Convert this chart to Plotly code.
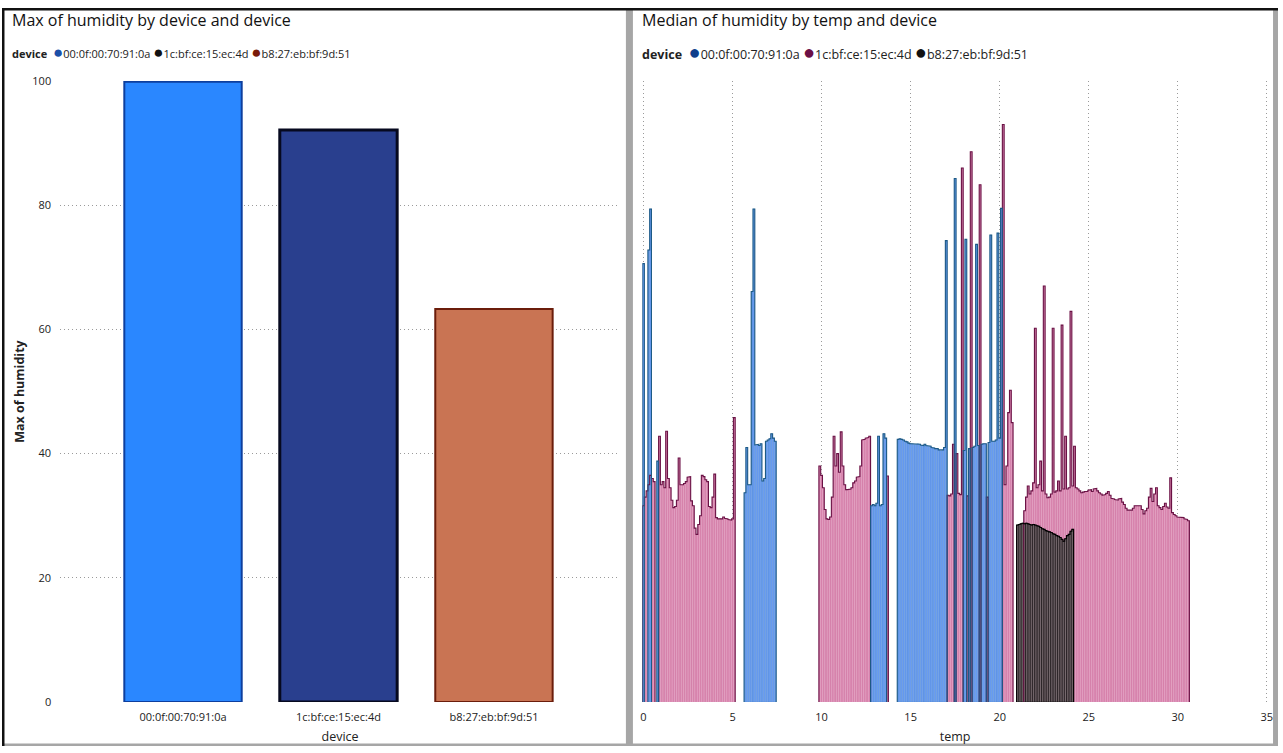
import plotly.graph_objects as go

W, H = 1283, 753

# ---------------- data: left chart ----------------
devices = ["00:0f:00:70:91:0a", "1c:bf:ce:15:ec:4d", "b8:27:eb:bf:9d:51"]
max_humidity = [99.9, 92.1, 63.3]

# ---------------- data: right chart (median humidity by temp) ----------------
blue_temp = [0.0, 0.3, 0.4, 0.8,
             5.7, 5.8, 5.9, 6.0, 6.1, 6.2, 6.3, 6.4, 6.5, 6.6, 6.7, 6.8, 6.9, 7.0, 7.1, 7.2, 7.3, 7.4,
             12.8, 12.9, 13.0, 13.1, 13.2, 13.3, 13.4, 13.5, 13.6,
             14.3, 14.4, 14.5, 14.6, 14.7, 14.8, 14.9, 15.0, 15.1, 15.2, 15.3, 15.4, 15.5, 15.6,
             15.7, 15.8, 15.9, 16.0, 16.1, 16.2, 16.3, 16.4, 16.5, 16.6, 16.7, 16.8, 16.9,
             17.0, 17.5,
             18.0, 18.1, 18.3, 18.5, 18.6, 18.7, 18.8, 19.0, 19.1, 19.2, 19.4, 19.5, 19.6, 19.7,
             19.8, 19.9, 20.0, 20.1]
blue_hum = [70.6, 72.8, 79.4, 38.8,
            33.7, 41.0, 35.0, 35.0, 66.1, 79.4, 41.4, 41.5, 41.3, 41.6, 35.6, 36.0, 42.0, 42.2, 42.4, 43.2, 42.5, 42.0,
            31.6, 31.8, 31.6, 32.0, 42.8, 31.6, 31.8, 43.2, 42.5,
            42.3, 42.4, 42.3, 42.2, 42.0, 41.9, 41.7, 41.6, 41.6, 41.5, 41.5, 41.6, 41.5, 41.4,
            41.3, 41.5, 41.3, 41.2, 41.2, 41.0, 40.9, 40.8, 40.8, 40.6, 40.5, 40.6, 41.0,
            74.3, 84.3,
            40.5, 74.5, 40.8, 41.0, 41.2, 73.7, 41.3, 41.5, 41.6, 41.6, 41.8, 75.2, 42.0, 42.0,
            42.2, 75.5, 42.5, 79.5]

pink_temp = [0.0, 0.1, 0.2, 0.3, 0.4, 0.5, 0.6, 0.9, 1.0, 1.1, 1.2, 1.3, 1.4, 1.5, 1.6, 1.7, 1.8, 1.9,
             2.0, 2.1, 2.2, 2.3, 2.4, 2.5, 2.6, 2.7, 2.8, 2.9, 3.0, 3.1, 3.2, 3.3, 3.4, 3.5, 3.6, 3.7,
             3.8, 3.9, 4.0, 4.1, 4.2, 4.3, 4.4, 4.5, 4.6, 4.7, 4.8, 4.9, 5.0, 5.1,
             9.9, 10.0, 10.1, 10.2, 10.3, 10.4, 10.5, 10.6, 10.7, 10.8, 10.9, 11.0, 11.1, 11.2, 11.3,
             11.4, 11.5, 11.6, 11.7, 11.8, 11.9, 12.0, 12.1, 12.2, 12.3, 12.4, 12.5, 12.6, 12.7,
             13.7,
             17.1, 17.2, 17.3, 17.4, 17.6, 17.7, 17.8, 17.9, 18.2, 18.4, 18.9, 19.3,
             20.2, 20.3, 20.4, 20.5, 20.6, 20.7,
             21.4, 21.5, 21.6, 21.7, 21.8, 21.9, 22.0, 22.1, 22.2, 22.3, 22.4, 22.5, 22.6, 22.7,
             22.8, 22.9, 23.0, 23.1, 23.2, 23.3, 23.4, 23.5, 23.6, 23.7, 23.8, 23.9, 24.0, 24.1,
             24.2, 24.3, 24.4, 24.5, 24.6, 24.7, 24.8, 24.9, 25.0, 25.1, 25.2, 25.3, 25.4, 25.5,
             25.6, 25.7, 25.8, 25.9, 26.0, 26.1, 26.2, 26.3, 26.4, 26.5, 26.6, 26.7, 26.8, 26.9,
             27.0, 27.1, 27.2, 27.3, 27.4, 27.5, 27.6, 27.7, 27.8, 27.9, 28.0, 28.1, 28.2, 28.3,
             28.4, 28.5, 28.6, 28.7, 28.8, 28.9, 29.0, 29.1, 29.2, 29.3, 29.4, 29.5, 29.6, 29.7,
             29.8, 29.9, 30.0, 30.1, 30.2, 30.3, 30.4, 30.5, 30.6]
pink_hum = [31.6, 33.0, 34.0, 35.0, 36.5, 36.0, 35.5, 42.8, 35.0, 35.5, 34.5, 43.6, 36.0, 34.5, 32.5, 31.3, 31.5, 32.5,
            39.3, 35.0, 35.0, 35.2, 35.5, 36.2, 36.3, 32.4, 31.6, 28.0, 27.0, 28.6, 30.0, 36.5, 36.3, 35.8, 35.5, 31.5,
            31.3, 33.0, 36.7, 29.7, 29.5, 29.6, 29.5, 29.8, 29.6, 29.5, 29.4, 29.3, 29.5, 45.8,
            38.0, 36.5, 34.5, 31.0, 29.5, 29.4, 29.8, 33.0, 42.8, 38.0, 40.0, 37.0, 43.5, 38.0, 35.0,
            34.2, 34.2, 34.3, 34.5, 35.3, 35.6, 36.2, 36.3, 38.0, 42.2, 42.3, 42.5, 42.6, 42.8,
            36.4,
            33.3, 33.2, 33.5, 41.5, 40.0, 33.6, 33.4, 86.0, 33.2, 88.6, 83.3, 33.0,
            93.0, 35.0, 38.0, 46.6, 50.2, 45.0,
            30.8, 33.0, 34.8, 33.5, 34.0, 35.3, 60.2, 34.5, 35.0, 38.8, 34.0, 67.0, 33.5, 32.9,
            33.0, 33.5, 60.2, 33.8, 34.0, 35.6, 34.0, 60.7, 34.3, 42.8, 34.3, 34.5, 62.9, 34.8,
            41.2, 34.5, 34.3, 34.0, 33.7, 33.8, 33.9, 33.9, 34.1, 34.2, 33.9, 34.3, 34.4, 34.0,
            33.7, 33.5, 33.3, 33.4, 33.6, 33.9, 33.3, 32.8, 32.7, 32.6, 32.5, 32.7, 32.8, 32.2,
            31.8, 31.2, 30.9, 30.9, 30.9, 31.2, 31.6, 31.6, 31.6, 31.6, 31.0, 30.3, 30.8, 31.2,
            33.0, 34.4, 32.3, 33.5, 34.5, 31.6, 31.3, 31.0, 31.5, 32.0, 31.4, 31.2, 36.1, 30.5,
            30.2, 30.0, 29.8, 29.8, 29.7, 29.7, 29.5, 29.4, 29.2]

black_temp = [21.0, 21.1, 21.2, 21.3, 21.4, 21.5, 21.6, 21.7, 21.8, 21.9, 22.0, 22.1, 22.2, 22.3, 22.4, 22.5,
              22.6, 22.7, 22.8, 22.9, 23.0, 23.1, 23.2, 23.3, 23.4, 23.5, 23.6, 23.7, 23.8, 23.9, 24.0, 24.1]
black_hum = [28.5, 28.6, 28.7, 28.8, 28.7, 28.8, 28.7, 28.6, 28.5, 28.6, 28.5, 28.4, 28.3, 28.1, 27.9, 27.8,
             27.6, 27.5, 27.4, 27.3, 27.1, 27.0, 26.8, 26.7, 26.5, 26.2, 25.9, 26.3, 26.8, 27.0, 27.5, 27.8]

# ---------------- styling ----------------
FONT = "Open Sans"
bar_fill_left = ["#2a87ff", "#293f8e", "#c97453"]
bar_edge_left = ["#0d3f9e", "#06091f", "#6b1d0b"]
bar_edge_w_left = [2, 3, 2]
legend_left_dots = ["#1c4fa8", "#111111", "#7a1a0a"]
legend_right_dots = ["#0f3f8c", "#6b0f45", "#111111"]

BAR_W = 0.1


def fx(x):
    return (x - 4) / 0.9915


def fy(y):
    return (y - 7) / 0.98


def px(x):
    return min(max(fx(x) / W, 0), 1)


def py(y):
    return min(max(1 - fy(y) / H, 0), 1)


def outline(ts, vs, w=BAR_W):
    pairs = sorted(zip(ts, vs))
    xs, ys = [], []
    prev = None
    for t, v in pairs:
        if prev is None or t - prev > w * 1.5:
            if prev is not None:
                xs += [prev + w / 2, None]
                ys += [0, None]
            xs.append(t - w / 2)
            ys.append(0)
        xs += [t - w / 2, t + w / 2]
        ys += [v, v]
        prev = t
    xs.append(prev + w / 2)
    ys.append(0)
    return xs, ys


fig = go.Figure()

# left bar chart
fig.add_trace(go.Bar(
    x=devices, y=max_humidity, width=0.755,
    marker=dict(color=bar_fill_left, line=dict(color=bar_edge_left, width=bar_edge_w_left)),
    xaxis="x", yaxis="y", showlegend=False, hoverinfo="skip"))

# right chart: bars per device
series = [
    ("1c:bf:ce:15:ec:4d", pink_temp, pink_hum, "#d581ab", "#e9a3c6", 0.2, "#6a1245"),
    ("00:0f:00:70:91:0a", blue_temp, blue_hum, "#6c9ef6", "#2f6f9e", 0.2, "#1d5a86"),
    ("b8:27:eb:bf:9d:51", black_temp, black_hum, "#8a7a80", "#000000", 0.6, "#000000"),
]
for name, ts, vs, fill, stripe, sw, edge in series:
    fig.add_trace(go.Bar(
        x=ts, y=vs, width=BAR_W, name=name,
        marker=dict(color=fill, line=dict(color=stripe, width=sw)),
        xaxis="x2", yaxis="y2", showlegend=False, hoverinfo="skip"))
for name, ts, vs, fill, stripe, sw, edge in series:
    ox, oy = outline(ts, vs)
    fig.add_trace(go.Scatter(
        x=ox, y=oy, mode="lines", line=dict(color=edge, width=1.1),
        xaxis="x2", yaxis="y2", showlegend=False, hoverinfo="skip", connectgaps=False))

# right x axis: temp 0 at ref x 643.5, temp 35 at ref x 1265
t0, t35 = fx(643.5), fx(1265)
ppu = (t35 - t0) / 35.0
PAD = 0.06
x2dom = [(t0 - PAD * ppu) / W, (t35 + PAD * ppu) / W]

ydom = [py(701), py(80)]
GRID = dict(showgrid=True, gridcolor="#9a9a9a", griddash="1px,3px", gridwidth=1)
TICKF = dict(size=11, color="#222")
fig.update_layout(
    width=W, height=H, margin=dict(l=0, r=0, t=0, b=0),
    paper_bgcolor="white", plot_bgcolor="white",
    font=dict(family=FONT, color="#222222"),
    barmode="overlay",
    xaxis=dict(domain=[px(62), px(620)], anchor="y", type="category",
               range=[-0.79, 2.81], showgrid=False, zeroline=False, showline=False,
               ticks="", tickfont=TICKF, ticklabelstandoff=7,
               title=dict(text="device", font=dict(size=12.5, color="#222"), standoff=9)),
    yaxis=dict(domain=ydom, anchor="x", range=[0, 100], tickvals=[0, 20, 40, 60, 80, 100],
               zeroline=False, showline=False, ticks="", ticklabelstandoff=8,
               tickfont=TICKF,
               title=dict(text="<b>Max of humidity</b>", font=dict(size=12.5, color="#222"), standoff=4),
               **GRID),
    xaxis2=dict(domain=x2dom, anchor="y2", range=[-PAD, 35 + PAD], tickvals=[0, 5, 10, 15, 20, 25, 30, 35],
                zeroline=False, showline=False, ticks="", tickfont=TICKF, ticklabelstandoff=7,
                title=dict(text="temp", font=dict(size=12.5, color="#222"), standoff=9), **GRID),
    yaxis2=dict(domain=ydom, anchor="x2", range=[0, 100], showgrid=False, zeroline=False,
                showticklabels=False, showline=False, ticks=""),
)

# titles and legends as text
annotations = [
    dict(text="Max of humidity by device and device", x=px(12), y=py(19)),
    dict(text="Median of humidity by temp and device", x=px(640), y=py(19)),
]
for a in annotations:
    a.update(xref="paper", yref="paper", xanchor="left", yanchor="middle", showarrow=False,
             font=dict(size=16, color="#111", family=FONT))


def legend_row(x0, dots, size):
    parts = ["<b>device</b> "]
    for name, col in zip(devices, dots):
        parts.append('<span style="color:%s;font-size:%dpx">\u25cf</span>%s' % (col, int(size * 1.6), name))
    return dict(text=" ".join(parts), x=px(x0), y=py(50), xref="paper", yref="paper",
                xanchor="left", yanchor="middle", showarrow=False,
                font=dict(size=size, color="#222", family=FONT))


annotations.append(legend_row(12, legend_left_dots, 11))
annotations.append(legend_row(640, legend_right_dots, 12.5))
fig.update_layout(annotations=annotations)

# panel frames
shapes = []
gray = "#a6a6a6"


def rect(x0, x1, y0, y1, col):
    return dict(type="rect", xref="paper", yref="paper", x0=x0, x1=x1, y0=y0, y1=y1,
                fillcolor=col, line_width=0, layer="above")


shapes.append(rect(px(626), px(633), 0, 1, gray))
shapes.append(rect(0, 1, 0, 2.5 / H, gray))
shapes.append(rect(1 - 5 / W, 1, 0, 1, gray))
shapes.append(rect(0, 2.5 / W, 0, 1, "#111"))
shapes.append(rect(0, 1, 1 - 2.5 / H, 1, "#111"))
fig.update_layout(shapes=shapes)

fig.write_html("out.html", config={"displayModeBar": False},
               post_script="document.body.style.margin='0';document.body.style.overflow='hidden';")
